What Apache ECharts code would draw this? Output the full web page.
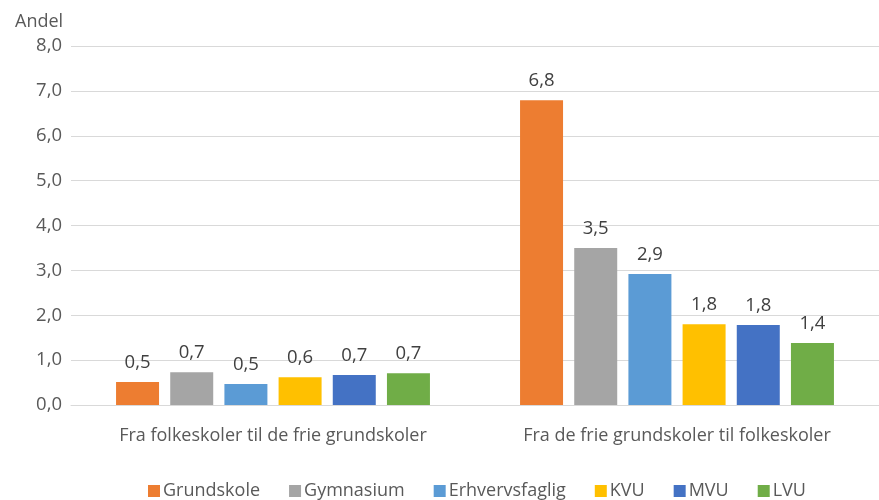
<!DOCTYPE html>
<html><head><meta charset="utf-8">
<script src="https://cdn.jsdelivr.net/npm/echarts@6/dist/echarts.min.js"></script>
<style>html,body{margin:0;padding:0;background:#fff}#c{width:879px;height:500px}</style>
</head><body><div id="c"></div>
<script>
const categories = ['Fra folkeskoler til de frie grundskoler', 'Fra de frie grundskoler til folkeskoler'];
const seriesNames = ['Grundskole', 'Gymnasium', 'Erhvervsfaglig', 'KVU', 'MVU', 'LVU'];
const grundskole = [0.51, 6.79];
const gymnasium = [0.73, 3.50];
const erhvervsfaglig = [0.47, 2.92];
const kvu = [0.62, 1.80];
const mvu = [0.67, 1.78];
const lvu = [0.71, 1.38];
const yTicks = [0, 1, 2, 3, 4, 5, 6, 7, 8];
const colors = ['#ED7D31', '#A5A5A5', '#5B9BD5', '#FFC000', '#4472C4', '#70AD47'];
const values = [grundskole, gymnasium, erhvervsfaglig, kvu, mvu, lvu];
const font = 'Open Sans';
const chart = echarts.init(document.getElementById('c'));
chart.setOption({
  animation: false,
  color: colors,
  textStyle: { fontFamily: font },
  title: { text: 'Andel', left: 10, top: 8, textStyle: { fontFamily: font, fontSize: 18, fontWeight: 'normal', color: '#595959' } },
  legend: {
    bottom: -5, left: 143, itemWidth: 12, itemHeight: 12, itemGap: 29,
    icon: 'rect',
    textStyle: { fontFamily: font, fontSize: 18, color: '#595959', padding: [0, 0, 0, -2] },
    data: seriesNames
  },
  grid: { left: 71, right: -2, top: 46, bottom: 95 },
  xAxis: {
    type: 'category', data: categories,
    axisLine: { lineStyle: { color: '#D9D9D9', width: 1 } },
    axisTick: { show: false },
    axisLabel: { color: '#595959', fontSize: 18, fontFamily: font, margin: 22 }
  },
  yAxis: {
    type: 'value', min: yTicks[0], max: yTicks[yTicks.length - 1], interval: 1,
    axisLine: { show: false }, axisTick: { show: false },
    splitLine: { lineStyle: { color: '#D9D9D9', width: 1 } },
    axisLabel: { color: '#595959', fontSize: 18.5, fontFamily: font, margin: 9, formatter: v => v.toFixed(1).replace('.', ',') }
  },
  series: seriesNames.map((n, i) => ({
    name: n, type: 'bar', data: values[i], barWidth: 43, barGap: '26%',
    label: { show: true, position: 'top', distance: 10, color: '#404040', fontSize: 18.5, fontFamily: font,
      formatter: p => p.value.toFixed(1).replace('.', ',') }
  }))
});
</script></body></html>
